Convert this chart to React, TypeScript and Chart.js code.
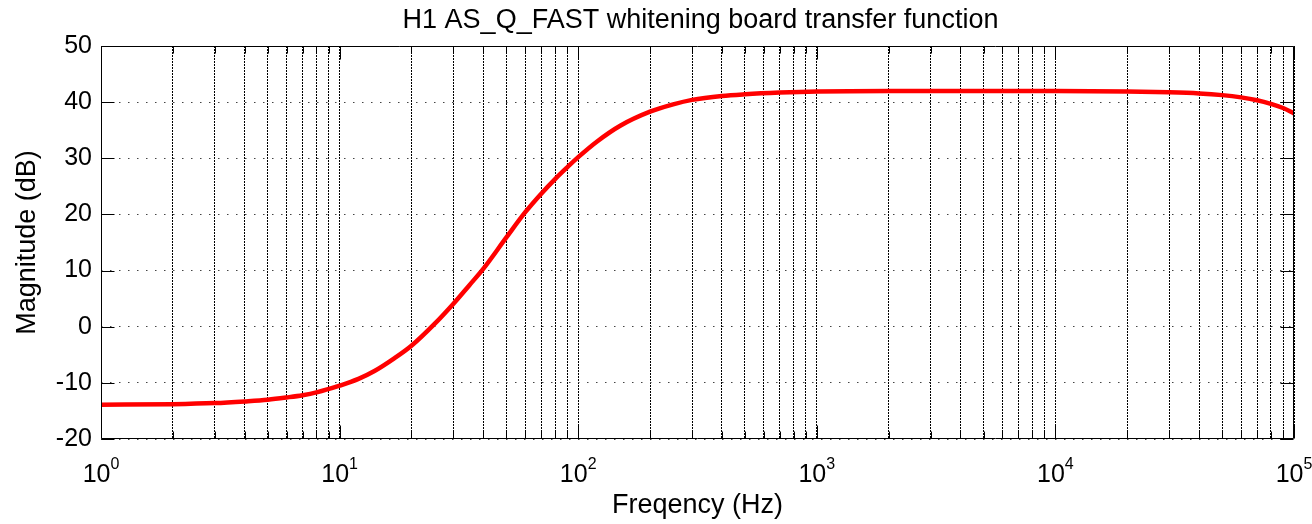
import React, { useEffect, useRef } from "react";
import { Chart, registerables } from "chart.js";

Chart.register(...registerables);

const chartTitle = "H1 AS_Q_FAST whitening board transfer function";
const xAxisLabel = "Freqency (Hz)";
const yAxisLabel = "Magnitude (dB)";

const freqs = [
  1, 2, 3, 4, 5, 6, 7, 8, 10, 12, 14, 17, 20, 25, 30, 35, 40, 50, 60, 70, 80,
  90, 100, 120, 150, 200, 250, 300, 400, 500, 700, 1000, 2000, 5000, 10000,
  20000, 30000, 40000, 50000, 60000, 70000, 80000, 90000, 100000,
];
const magnitudes = [
  -13.9, -13.8, -13.6, -13.3, -13.0, -12.6, -12.2, -11.7, -10.5, -9.3, -7.9,
  -5.6, -3.4, 0.5, 4.1, 7.4, 10.3, 15.9, 20.4, 23.7, 26.3, 28.4, 30.2, 33.0,
  35.8, 38.3, 39.6, 40.4, 41.1, 41.4, 41.7, 41.9, 42.0, 42.0, 42.0, 41.9,
  41.75, 41.55, 41.25, 40.85, 40.35, 39.7, 38.95, 38.0,
];

const decadeExponents = [0, 1, 2, 3, 4, 5];
const gridMultipliers = [1, 2, 3, 4, 5, 6, 7, 8, 9];
const yTickValues = [-20, -10, 0, 10, 20, 30, 40, 50];

const FONT = "'Liberation Sans', Arial, Helvetica, sans-serif";

function xGridValues(): number[] {
  const vals: number[] = [];
  for (let e = 0; e < 5; e++) {
    for (const m of gridMultipliers) vals.push(m * Math.pow(10, e));
  }
  vals.push(Math.pow(10, 5));
  return vals;
}

const boxPlugin = {
  id: "matlabBox",
  afterDraw(chart: any) {
    const { ctx, chartArea } = chart;
    const xs = chart.scales.x;
    const ys = chart.scales.y;
    const { left, right, top, bottom } = chartArea;
    ctx.save();
    ctx.strokeStyle = "#000";
    ctx.lineWidth = 1;
    ctx.setLineDash([]);
    const L = Math.round(left) + 0.5;
    const R = Math.round(right) - 0.5;
    const T = Math.round(top) + 0.5;
    const B = Math.round(bottom) - 0.5;
    ctx.beginPath();
    ctx.rect(L, T, R - L, B - T);
    ctx.stroke();
    ctx.beginPath();
    for (const v of yTickValues) {
      const y = Math.round(ys.getPixelForValue(v)) + 0.5;
      ctx.moveTo(L, y);
      ctx.lineTo(L + 13, y);
      ctx.moveTo(R, y);
      ctx.lineTo(R - 13, y);
    }
    for (const v of xGridValues()) {
      const x = Math.round(xs.getPixelForValue(v)) + 0.5;
      const major = Math.abs(Math.log10(v) - Math.round(Math.log10(v))) < 1e-9;
      const len = major ? 13 : 7;
      ctx.moveTo(x, B);
      ctx.lineTo(x, B - len);
      ctx.moveTo(x, T);
      ctx.lineTo(x, T + len);
    }
    ctx.stroke();

    ctx.fillStyle = "#000";
    ctx.textBaseline = "alphabetic";
    ctx.textAlign = "left";
    for (const e of decadeExponents) {
      const x = xs.getPixelForValue(Math.pow(10, e));
      ctx.font = `25px ${FONT}`;
      const wBase = ctx.measureText("10").width;
      ctx.font = `16px ${FONT}`;
      const wExp = ctx.measureText(String(e)).width;
      const start = x - (wBase + wExp) / 2;
      ctx.font = `25px ${FONT}`;
      ctx.fillText("10", start, 481.5);
      ctx.font = `16px ${FONT}`;
      ctx.fillText(String(e), start + wBase, 469);
    }

    ctx.font = `27px ${FONT}`;
    ctx.textAlign = "center";
    ctx.fillText(chartTitle, (left + right) / 2 + 3, 27.5);
    ctx.restore();
  },
};

export default function App() {
  const canvasRef = useRef<HTMLCanvasElement | null>(null);

  useEffect(() => {
    document.body.style.margin = "0";
    const canvas = canvasRef.current;
    if (!canvas) return;
    Chart.defaults.font.family = FONT;
    Chart.defaults.color = "#000";

    const chart = new Chart(canvas, {
      type: "line",
      data: {
        datasets: [
          {
            data: freqs.map((f, i) => ({ x: f, y: magnitudes[i] })),
            borderColor: "#ff0000",
            backgroundColor: "#ff0000",
            borderWidth: 4.5,
            pointRadius: 0,
            cubicInterpolationMode: "monotone",
            fill: false,
          },
        ],
      },
      options: {
        animation: false,
        responsive: false,
        layout: { padding: { left: 0, right: 18, top: 46, bottom: 0 } },
        plugins: {
          legend: { display: false },
          tooltip: { enabled: false },
          title: { display: false },
        },
        scales: {
          x: {
            type: "logarithmic",
            min: 1,
            max: 100000,
            afterBuildTicks: (scale: any) => {
              scale.ticks = xGridValues().map((v) => ({ value: v }));
            },
            afterFit: (scale: any) => {
              scale.height = 85;
            },
            ticks: { display: false },
            grid: {
              color: "#000",
              lineWidth: 1,
              drawTicks: false,
            },
            border: { display: false, dash: [2, 1] },
            title: {
              display: true,
              text: xAxisLabel,
              color: "#000",
              font: { size: 27, family: FONT },
              padding: { top: 0, bottom: 2.2 },
            },
          },
          y: {
            type: "linear",
            min: -20,
            max: 50,
            ticks: {
              stepSize: 10,
              padding: 9,
              color: "#000",
              font: { size: 25, family: FONT },
            },
            afterFit: (scale: any) => {
              scale.width = 101;
            },
            grid: {
              color: "#444",
              lineWidth: 1,
              drawTicks: false,
            },
            border: { display: false, dash: [1.5, 7.5] },
            title: {
              display: true,
              text: yAxisLabel,
              color: "#000",
              font: { size: 27, family: FONT },
              padding: { top: 11.5, bottom: 0 },
            },
          },
        },
      },
      plugins: [boxPlugin],
    } as any);

    return () => {
      chart.destroy();
    };
  }, []);

  return (
    <div style={{ position: "absolute", left: 0, top: 0, width: 1312, height: 524 }}>
      <canvas ref={canvasRef} width={1312} height={524} />
    </div>
  );
}
